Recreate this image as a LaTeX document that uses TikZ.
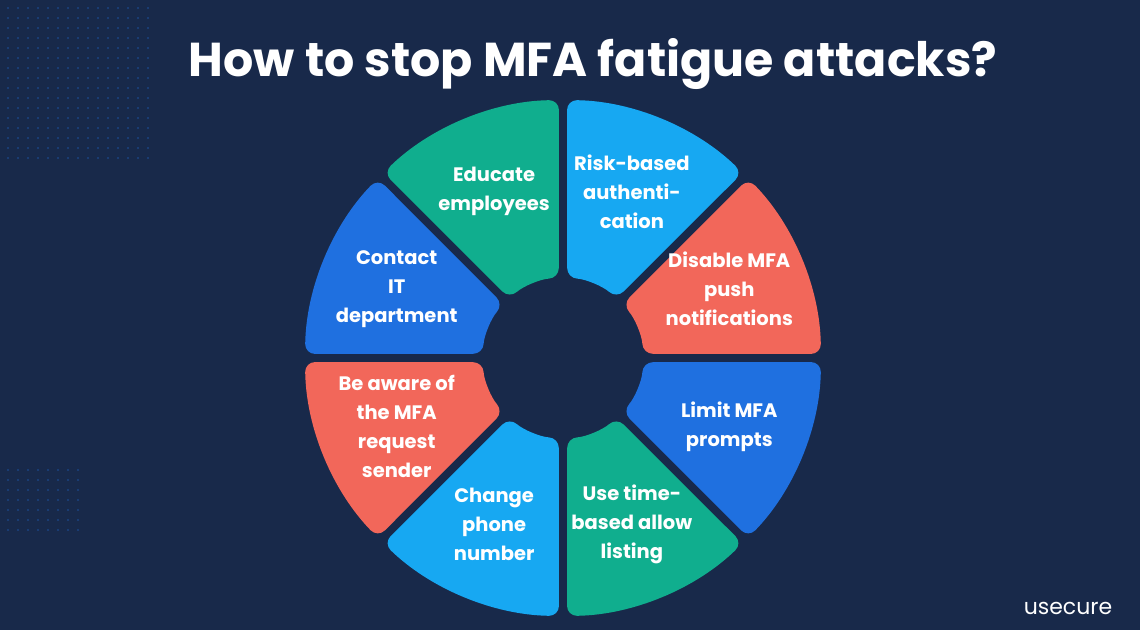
\documentclass[tikz,border=0pt]{standalone}
\usepackage{fontspec}
\setmainfont{Poppins}
\usetikzlibrary{calc}
\definecolor{bg}{HTML}{18294A}
\definecolor{cgreen}{HTML}{10AE8E}
\definecolor{clight}{HTML}{17A8F2}
\definecolor{cred}{HTML}{F2675A}
\definecolor{cblue}{HTML}{1F70E0}
\tikzset{lbl/.style={text=white,font=\bfseries\fontsize{19.5}{29}\selectfont,align=center}}
\begin{document}
\begin{tikzpicture}[x=1pt,y=1pt]
\fill[bg] (0,0) rectangle (1140,630);
\useasboundingbox (0,0) rectangle (1140,630);
% dot patterns
\foreach \i in {0,...,14}{\foreach \j in {0,...,15}{
  \fill[cblue!55!bg] (8+\i*10,622-\j*10) circle (0.9);}}
\foreach \i in {0,...,7}{\foreach \j in {0,...,6}{
  \fill[cblue!55!bg] (8+\i*10,160-\j*10) circle (0.9);}}
\node[text=white,font=\bfseries\fontsize{47.5}{52}\selectfont] (title) at (593,566) {How to stop MFA fatigue attacks?};
\coordinate (c) at (563,272);
\def\R{258}\def\r{80}
\foreach \a/\col/\t [count=\k] in {0/cred/{Disable MFA\\push\\notifications},45/clight/{Risk-based\\authenti-\\cation},90/cgreen/{Educate\\employees},135/cblue/{Contact\\IT\\department},180/cred/{Be aware of\\the MFA\\request\\sender},225/clight/{Change\\phone\\number},270/cgreen/{Use time-\\based allow\\listing},315/cblue/{Limit MFA\\prompts}}{
  \fill[\col,rounded corners=10pt] ($(c)+(\a+0.9:\R)$) arc[start angle=\a+0.9,end angle=\a+44.1,radius=\R]
     -- ($(c)+(\a+42:\r)$) arc[start angle=\a+42,end angle=\a+3,radius=\r] -- cycle;
  \node[lbl] (s\k) at ($(c)+(\a+22.5:180)$) {\t};
}
\node[text=white,font=\fontsize{22}{24}\selectfont] (logo) at (1068,22) {usecure};
\end{tikzpicture}
\end{document}
